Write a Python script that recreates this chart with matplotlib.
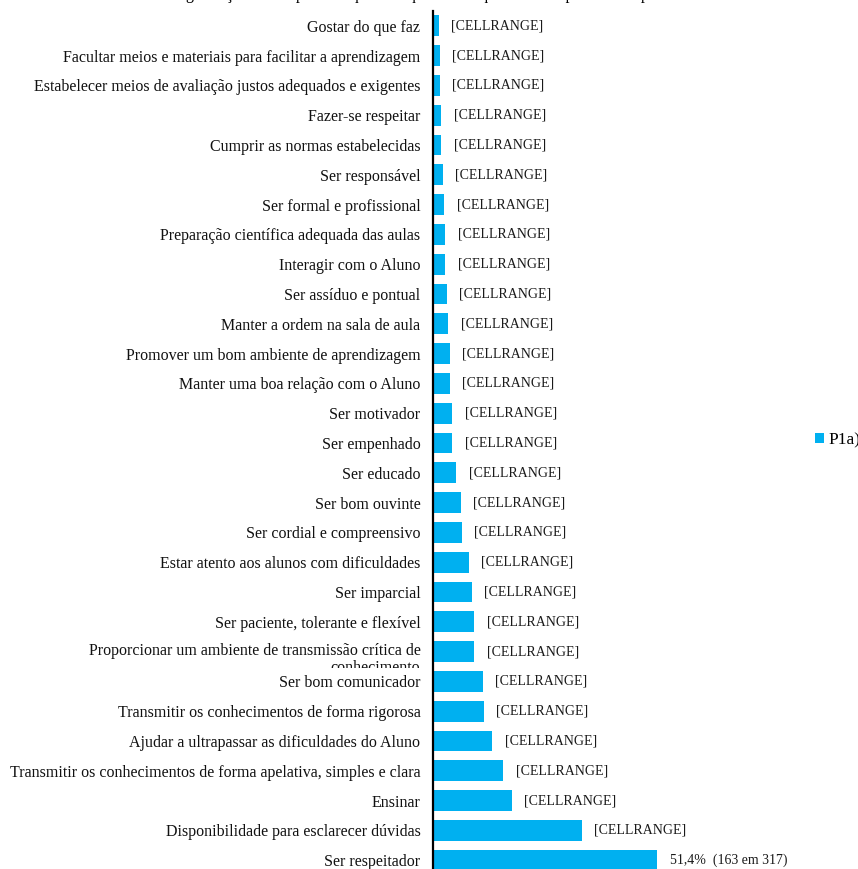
import matplotlib
matplotlib.use("Agg")
import matplotlib.pyplot as plt
from matplotlib.transforms import Bbox, ScaledTranslation

plt.rcParams['font.family'] = ['Liberation Serif', 'DejaVu Serif']

# categories top -> bottom as in the picture
categorias = [
    "Gostar do que faz",
    "Facultar meios e materiais para facilitar a aprendizagem",
    "Estabelecer meios de avaliação justos adequados e exigentes",
    "Fazer-se respeitar",
    "Cumprir as normas estabelecidas",
    "Ser responsável",
    "Ser formal e profissional",
    "Preparação científica adequada das aulas",
    "Interagir com o Aluno",
    "Ser assíduo e pontual",
    "Manter a ordem na sala de aula",
    "Promover um bom ambiente de aprendizagem",
    "Manter uma boa relação com o Aluno",
    "Ser motivador",
    "Ser empenhado",
    "Ser educado",
    "Ser bom ouvinte",
    "Ser cordial e compreensivo",
    "Estar atento aos alunos com dificuldades",
    "Ser imparcial",
    "Ser paciente, tolerante e flexível",
    "Proporcionar um ambiente de transmissão crítica de\nconhecimento",
    "Ser bom comunicador",
    "Transmitir os conhecimentos de forma rigorosa",
    "Ajudar a ultrapassar as dificuldades do Aluno",
    "Transmitir os conhecimentos de forma apelativa, simples e clara",
    "Ensinar",
    "Disponibilidade para esclarecer dúvidas",
    "Ser respeitador",
]
# respostas (em 317)
contagens = [4, 5, 5, 6, 6, 7, 8, 9, 9, 10, 11, 12, 12, 14, 14, 17, 20, 21,
             26, 28, 30, 30, 36, 37, 43, 51, 57, 108, 163]
total = 317
rotulos = ["[CELLRANGE]"] * 28 + ["51,4%  (163 em 317)"]

percent = [c / total * 100 for c in contagens]
y = list(range(len(categorias)))

W, H = 858, 869
fig = plt.figure(figsize=(W / 100, H / 100), dpi=100)
ax = fig.add_axes([433 / W, (H - 875) / H, (800 - 433) / W, (875 - 11) / H])

bars = ax.barh(y, percent, height=0.7, color="#00B0F0", label="P1a)")
ax.set_ylim(len(categorias) - 0.5, -0.5)
ax.set_xlim(0, 367 / 4.366)

for i, (p, r) in enumerate(zip(percent, rotulos)):
    ax.annotate(r, (p, i), xytext=(9, 0), textcoords="offset points",
                va="center", ha="left", fontsize=10, color="#1a1a1a")

ax.set_yticks(y)
ax.set_yticklabels(categorias, fontsize=11.5, color="#111111")
ax.tick_params(axis="y", length=0, pad=9)
ax.set_xticks([])
for s in ["top", "right", "bottom"]:
    ax.spines[s].set_visible(False)
ax.spines["left"].set_linewidth(1.6)

# the two-line label is cut off in the original
lab = ax.get_yticklabels()[21]
lab.set_linespacing(1.15)
lab.set_transform(lab.get_transform() + ScaledTranslation(0, -5 / 100, fig.dpi_scale_trans))
lab.set_clip_box(Bbox.from_extents(0, H - 668, W, H))
lab.set_clip_on(True)

leg = ax.legend(loc="center left", frameon=False, fontsize=12.5,
                handlelength=0.5, handleheight=0.5, handletextpad=0.3,
                borderaxespad=0, borderpad=0)
leg.set_bbox_to_anchor((815 / W, 1 - 440 / H), transform=fig.transFigure)

# title is almost entirely outside the visible area
fig.text(0.5, 1.0 + 1 / H, "Categorização das respostas à questão: qualidades que o aluno aprecia num professor",
         ha="center", va="baseline", fontsize=11.5)

fig.savefig("out.png", dpi=100)
